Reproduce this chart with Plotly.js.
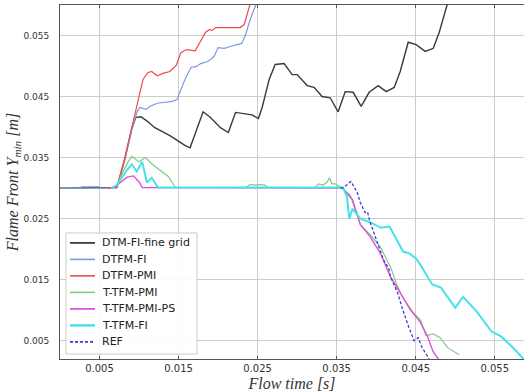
<!DOCTYPE html>
<html><head><meta charset="utf-8">
<script src="https://cdn.plot.ly/plotly-3.0.1.min.js"></script>
<style>html,body{margin:0;padding:0;background:#fff;}#chart{width:524px;height:392px;}</style>
</head><body><div id="chart"></div>
<script>
const seriesNames = ["DTM-FI-fine grid","DTFM-FI","DTFM-PMI","T-TFM-PMI","T-TFM-PMI-PS","T-TFM-FI","REF"];

const tBlack = [0, 0.0072, 0.0082, 0.0091, 0.0096, 0.01025, 0.0111, 0.0120, 0.0139, 0.0158, 0.01646, 0.0181, 0.0190, 0.0203, 0.0213, 0.0222, 0.0243, 0.0251, 0.02557, 0.02646, 0.02722, 0.02835, 0.02937, 0.0300, 0.03127, 0.03215, 0.03316, 0.03418, 0.03519, 0.03608, 0.03709, 0.0381, 0.03911, 0.04025, 0.04127, 0.04228, 0.04304, 0.04405, 0.04506, 0.0462, 0.04722, 0.04797, 0.04899, 0.0495];
const yBlack = [0.0300, 0.0301, 0.0347, 0.0399, 0.0416, 0.0417, 0.0409, 0.0399, 0.0386, 0.0370, 0.0366, 0.0425, 0.0416, 0.0399, 0.0391, 0.0424, 0.0420, 0.0414, 0.0432, 0.0478, 0.05025, 0.0504, 0.0486, 0.0486, 0.0468, 0.0465, 0.0450, 0.0448, 0.0425, 0.0458, 0.0457, 0.0434, 0.0457, 0.0468, 0.0458, 0.0465, 0.0491, 0.0539, 0.0535, 0.0524, 0.0529, 0.0555, 0.0601, 0.0615];

const tBlue = [0, 0.0025, 0.0027, 0.0050, 0.0052, 0.0072, 0.0082, 0.0091, 0.00975, 0.0101, 0.0109, 0.0114, 0.0123, 0.0133, 0.0142, 0.0148, 0.0153, 0.0159, 0.0166, 0.0172, 0.0178, 0.0186, 0.0192, 0.0195, 0.0200, 0.0208, 0.0215, 0.0223, 0.0230, 0.0235, 0.0239, 0.0244, 0.0249, 0.0253];
const yBlue = [0.0300, 0.0300, 0.0302, 0.0302, 0.0300, 0.0301, 0.0347, 0.0396, 0.0425, 0.0432, 0.0429, 0.0434, 0.0439, 0.0440, 0.0442, 0.0445, 0.0461, 0.0481, 0.0498, 0.0499, 0.0504, 0.0507, 0.0512, 0.0516, 0.0530, 0.0529, 0.0532, 0.0535, 0.0537, 0.0552, 0.0570, 0.0588, 0.0602, 0.0616];

const tRed = [0.0060, 0.0072, 0.0082, 0.0091, 0.00987, 0.0105, 0.0111, 0.0116, 0.0123, 0.0130, 0.0139, 0.0147, 0.0153, 0.0160, 0.0171, 0.0177, 0.0184, 0.0189, 0.0192, 0.0197, 0.0228, 0.0233, 0.0237, 0.0241, 0.0244];
const yRed = [0.0300, 0.0301, 0.0350, 0.0402, 0.0445, 0.0478, 0.0489, 0.0491, 0.0484, 0.0488, 0.0491, 0.0501, 0.0522, 0.0527, 0.0525, 0.0540, 0.0555, 0.0560, 0.0558, 0.0563, 0.0563, 0.0568, 0.0588, 0.0604, 0.0617];

const tGreen = [0.0065, 0.0072, 0.0078, 0.0086, 0.0091, 0.0100, 0.0108, 0.0116, 0.0127, 0.0137, 0.0146, 0.0235, 0.0241, 0.0247, 0.0253, 0.0259, 0.0263, 0.0323, 0.0327, 0.0333, 0.0338, 0.0341, 0.0344, 0.0348, 0.0352, 0.0357, 0.0367, 0.0380, 0.0392, 0.0405, 0.0418, 0.0427, 0.0434, 0.0447, 0.0456, 0.0463, 0.0472, 0.0481, 0.0490, 0.0505];
const yGreen = [0.0300, 0.0305, 0.0322, 0.0343, 0.0352, 0.0343, 0.0350, 0.0340, 0.0329, 0.0319, 0.0301, 0.0301, 0.0306, 0.0305, 0.0306, 0.0305, 0.0301, 0.0301, 0.0307, 0.0305, 0.0310, 0.0317, 0.0307, 0.0307, 0.0304, 0.0300, 0.0289, 0.0240, 0.0224, 0.0204, 0.0171, 0.0139, 0.0120, 0.0096, 0.0084, 0.0058, 0.0061, 0.0055, 0.0039, 0.0027];

const tMagenta = [0.0065, 0.0072, 0.0085, 0.0093, 0.0100, 0.0104, 0.0357, 0.0370, 0.0380, 0.0392, 0.0405, 0.0418, 0.0430, 0.0443, 0.0456, 0.0465, 0.0472, 0.0477, 0.0481];
const yMagenta = [0.0300, 0.0305, 0.0318, 0.0320, 0.0310, 0.0301, 0.0300, 0.0281, 0.0240, 0.0221, 0.0194, 0.0155, 0.0129, 0.0101, 0.0080, 0.0057, 0.0032, 0.0022, 0.0016];

const tCyan = [0.0065, 0.0072, 0.0085, 0.0091, 0.0097, 0.0104, 0.0110, 0.0116, 0.0124, 0.0352, 0.0358, 0.0363, 0.0366, 0.0370, 0.0380, 0.0394, 0.0406, 0.0417, 0.0424, 0.0434, 0.0442, 0.0451, 0.0458, 0.0471, 0.0482, 0.0500, 0.0510, 0.0527, 0.0546, 0.0558, 0.0572, 0.0585, 0.0590];
const yCyan = [0.0300, 0.0305, 0.0330, 0.0339, 0.0327, 0.0343, 0.0309, 0.0317, 0.0301, 0.0302, 0.0301, 0.0286, 0.0250, 0.0266, 0.0250, 0.0243, 0.0235, 0.0237, 0.0220, 0.0196, 0.0193, 0.0184, 0.0170, 0.0142, 0.0137, 0.0104, 0.0122, 0.0098, 0.0065, 0.0057, 0.0040, 0.0022, 0.0015];

const tRef = [0.0355, 0.0359, 0.0368, 0.0376, 0.0380, 0.0382, 0.0386, 0.0389, 0.0392, 0.0399, 0.0409, 0.0416, 0.0418, 0.0427, 0.0433, 0.0441, 0.0448, 0.0453, 0.0458, 0.0466, 0.0468];
const yRef = [0.0300, 0.0301, 0.0311, 0.0293, 0.0276, 0.0270, 0.0260, 0.0261, 0.0245, 0.0220, 0.0183, 0.0168, 0.0155, 0.0129, 0.0103, 0.0073, 0.0050, 0.0055, 0.0039, 0.0022, 0.0016];

const xTicks = [0.005, 0.015, 0.025, 0.035, 0.045, 0.055];
const yTicks = [0.005, 0.015, 0.025, 0.035, 0.045, 0.055];

const colors = ["#3a3a3a", "#7b98e3", "#f24a4a", "#7fcb7f", "#e04fe0", "#45e3e6", "#3b3bd6"];
const widths = [1.4, 1.2, 1.2, 1.2, 1.4, 2.0, 1.3];
const dashes = ["solid", "solid", "solid", "solid", "solid", "solid", "3px,2px"];
const xs = [tBlack, tBlue, tRed, tGreen, tMagenta, tCyan, tRef];
const ys = [yBlack, yBlue, yRed, yGreen, yMagenta, yCyan, yRef];

const traces = seriesNames.map((n, i) => ({
  type: "scatter", mode: "lines", name: n, x: xs[i], y: ys[i],
  showlegend: false,
  line: {color: colors[i], width: widths[i], dash: dashes[i]}
}));

// Legend box built from the series names/colours (paper coordinates)
const legX0 = 0.0129, legX1 = 0.2953, legY0 = 0.0141, legY1 = 0.356;
const legTop = 0.328, legStep = 0.0466;
const shapes = [{
  type: "rect", xref: "paper", yref: "paper", x0: legX0, x1: legX1, y0: legY0, y1: legY1,
  fillcolor: "rgba(255,255,255,0.9)", line: {color: "#cccccc", width: 1}, layer: "above"
}];
const annotations = [];
seriesNames.forEach((n, i) => {
  const yy = legTop - legStep * i;
  shapes.push({type: "line", xref: "paper", yref: "paper", x0: 0.0216, x1: 0.0754, y0: yy, y1: yy,
    line: {color: colors[i], width: widths[i] + 0.4, dash: i === 6 ? "3px,2px" : "solid"}, layer: "above"});
  annotations.push({xref: "paper", yref: "paper", x: 0.0862, y: yy, xanchor: "left", yanchor: "middle",
    text: n, showarrow: false, font: {family: "DejaVu Sans", size: 11, color: "#222"}});
});

const layout = {
  width: 524, height: 392,
  margin: {l: 60, r: 0, t: 5, b: 33},
  paper_bgcolor: "#fff", plot_bgcolor: "#fff",
  showlegend: false,
  shapes: shapes, annotations: annotations,
  xaxis: {
    range: [0, 0.0587], tickvals: xTicks, ticktext: xTicks.map(v => v.toFixed(3)),
    showgrid: true, gridcolor: "#cdcdcd", gridwidth: 1, zeroline: false,
    showline: true, linecolor: "#555", linewidth: 1, mirror: "allticks",
    ticks: "inside", ticklen: 3, tickcolor: "#555",
    tickfont: {family: "DejaVu Sans", size: 10, color: "#333"},
    title: {text: "<i>Flow time [s]</i>", font: {family: "Liberation Serif", size: 16, color: "#333"}, standoff: 4}
  },
  yaxis: {
    range: [0.002, 0.060], tickvals: yTicks, ticktext: yTicks.map(v => v.toFixed(3)),
    showgrid: true, gridcolor: "#cdcdcd", gridwidth: 1, zeroline: false,
    showline: true, linecolor: "#555", linewidth: 1, mirror: false,
    ticks: "", ticklabelstandoff: 8,
    tickfont: {family: "DejaVu Sans", size: 9, color: "#333"},
    title: {text: "<i>Flame Front Y<sub>min</sub> [m]</i>", font: {family: "Liberation Serif", size: 16, color: "#333"}, standoff: 0}
  }
};

Plotly.newPlot("chart", traces, layout, {displayModeBar: false, staticPlot: true});
</script>
</body></html>
